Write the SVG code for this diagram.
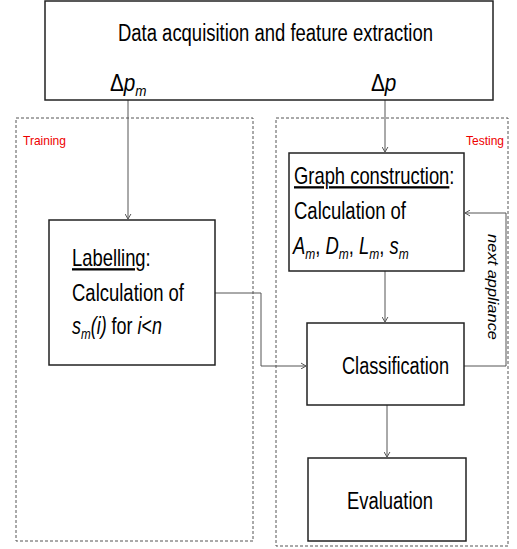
<svg xmlns="http://www.w3.org/2000/svg" width="517" height="549" viewBox="0 0 517 549">
<defs>
<style>
.box{fill:#fff;stroke:#222;stroke-width:1.5}
.grp{fill:none;stroke:#555;stroke-width:1;stroke-dasharray:3,2}
.con{fill:none;stroke:#555;stroke-width:1}
.t{font-family:"Liberation Sans",Arial,sans-serif;fill:#000}
.lbl{font-family:"Liberation Sans",Arial,sans-serif;fill:#e00;font-size:13px}
.it{font-style:italic}
.u{text-decoration:underline}
</style>
<marker id="arr" markerWidth="10" markerHeight="10" viewBox="-5 -7 10 10" refX="0" refY="0" orient="auto-start-reverse" markerUnits="userSpaceOnUse">
<path d="M-6,-3.5 L0,0 L-6,3.5" fill="none" stroke="#555" stroke-width="1"/>
</marker>
</defs>
<rect width="517" height="549" fill="#fff"/>
<g id="training-group">
<rect class="grp" x="16" y="118" width="237" height="423"/>
<text class="lbl" x="23" y="145" textLength="43" lengthAdjust="spacingAndGlyphs">Training</text>
</g>
<g id="testing-group">
<rect class="grp" x="276" y="118" width="232" height="428"/>
<text class="lbl" x="466" y="145" textLength="38" lengthAdjust="spacingAndGlyphs">Testing</text>
</g>
<g id="connectors">
<line class="con" x1="128" y1="100" x2="128" y2="219" marker-end="url(#arr)"/>
<line class="con" x1="385" y1="100" x2="385" y2="152" marker-end="url(#arr)"/>
<polyline class="con" points="215,293 261,293 261,366 306,366" marker-end="url(#arr)"/>
<line class="con" x1="385" y1="271" x2="385" y2="322" marker-end="url(#arr)"/>
<polyline class="con" points="464,366 506,366 506,213 465,213" marker-end="url(#arr)"/>
<line class="con" x1="387" y1="405" x2="387" y2="457" marker-end="url(#arr)"/>
<text class="t it" x="493" y="287" font-size="15" text-anchor="middle" dominant-baseline="central" transform="rotate(90 493 287)" textLength="106" lengthAdjust="spacingAndGlyphs">next appliance</text>
</g>
<g id="data-acquisition">
<rect class="box" x="45" y="1" width="448" height="99"/>
<text class="t" x="118" y="41" font-size="23" textLength="315" lengthAdjust="spacingAndGlyphs">Data acquisition and feature extraction</text>
<text class="t" x="110" y="91" font-size="23" transform="translate(110 91) scale(0.9 1) translate(-110 -91)">Δ<tspan class="it">p</tspan><tspan class="it" font-size="15" dy="5">m</tspan></text>
<text class="t" x="371" y="91" font-size="23" transform="translate(371 91) scale(0.9 1) translate(-371 -91)">Δ<tspan class="it">p</tspan></text>
</g>
<g id="labelling">
<rect class="box" x="49" y="220" width="166" height="145"/>
<text class="t" x="72" y="266" font-size="23" transform="translate(72 266) scale(0.8 1) translate(-72 -266)"><tspan class="u">Labelling</tspan>:</text>
<text class="t" x="72" y="301" font-size="23" textLength="112" lengthAdjust="spacingAndGlyphs">Calculation of</text>
<text class="t" x="72" y="334" font-size="23" transform="translate(72 334) scale(0.78 1) translate(-72 -334)"><tspan class="it">s</tspan><tspan class="it" font-size="15" dy="5">m</tspan><tspan class="it" dy="-5">(i)</tspan> for <tspan class="it">i</tspan>&lt;<tspan class="it">n</tspan></text>
</g>
<g id="graph-construction">
<rect class="box" x="289" y="153" width="175" height="118"/>
<text class="t" x="294" y="184" font-size="23" transform="translate(294 184) scale(0.8 1) translate(-294 -184)"><tspan class="u">Graph construction</tspan>:</text>
<text class="t" x="294" y="219" font-size="23" textLength="112" lengthAdjust="spacingAndGlyphs">Calculation of</text>
<text class="t" x="293" y="254" font-size="23" transform="translate(293 254) scale(0.8 1) translate(-293 -254)"><tspan class="it">A</tspan><tspan class="it" font-size="15" dy="5">m</tspan><tspan dy="-5">, </tspan><tspan class="it">D</tspan><tspan class="it" font-size="15" dy="5">m</tspan><tspan dy="-5">, </tspan><tspan class="it">L</tspan><tspan class="it" font-size="15" dy="5">m</tspan><tspan dy="-5">, </tspan><tspan class="it">s</tspan><tspan class="it" font-size="15" dy="5">m</tspan></text>
</g>
<g id="classification">
<rect class="box" x="307" y="323" width="157" height="82"/>
<text class="t" x="342" y="374" font-size="23" textLength="107" lengthAdjust="spacingAndGlyphs">Classification</text>
</g>
<g id="evaluation">
<rect class="box" x="308" y="458" width="158" height="83"/>
<text class="t" x="347" y="509" font-size="23" textLength="86" lengthAdjust="spacingAndGlyphs">Evaluation</text>
</g>
</svg>
